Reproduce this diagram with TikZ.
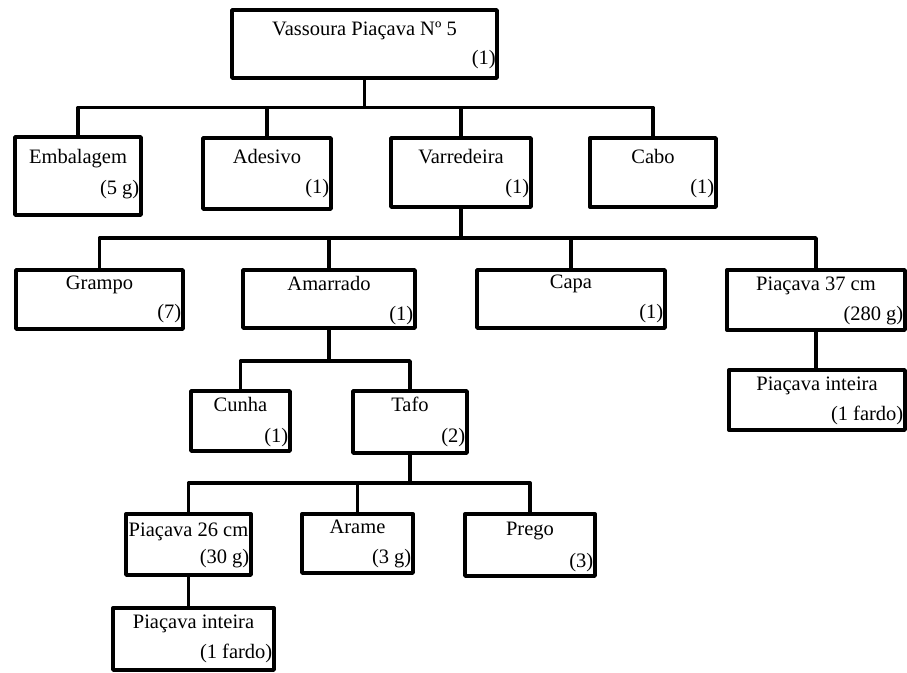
\documentclass[tikz,border=0pt]{standalone}
\usepackage{fontspec}
\setmainfont{Liberation Serif}
\usepackage{tikz}

\begin{document}
\begin{tikzpicture}[
  x=1pt, y=-1pt,
  font=\fontsize{20.5}{24}\selectfont,
  box/.style={draw, line width=3.4pt, line join=round, anchor=north west, inner sep=0pt, outer sep=0pt},
  ttl/.style={anchor=base, inner sep=0pt},
  qty/.style={anchor=base east, inner sep=0pt},
  link/.style={line width=3.4pt, line join=round}
]
  \useasboundingbox (0,0) rectangle (907,672);

  % level 0
  \node[box, minimum width=265pt, minimum height=68pt] (vass) at (232,10) {};
  \node[ttl] (vass-t) at ([yshift=-25pt]vass.north) {Vassoura Piaçava Nº 5};
  \node[qty] (vass-q) at ([shift={(-1pt,-54pt)}]vass.north east) {(1)};

  % level 1
  \node[box, minimum width=126pt, minimum height=78pt] (emb) at (15,137) {};
  \node[ttl] (emb-t) at ([yshift=-26pt]emb.north) {Embalagem};
  \node[qty] (emb-q) at ([shift={(-1.5pt,-57pt)}]emb.north east) {(5 g)};
  \node[box, minimum width=128pt, minimum height=71pt] (ades) at (203,138) {};
  \node[ttl] (ades-t) at ([yshift=-25pt]ades.north) {Adesivo};
  \node[qty] (ades-q) at ([shift={(-1.5pt,-55pt)}]ades.north east) {(1)};
  \node[box, minimum width=140pt, minimum height=69pt] (varr) at (391,138) {};
  \node[ttl] (varr-t) at ([yshift=-25pt]varr.north) {Varredeira};
  \node[qty] (varr-q) at ([shift={(-1.5pt,-55pt)}]varr.north east) {(1)};
  \node[box, minimum width=126pt, minimum height=69pt] (cabo) at (590,138) {};
  \node[ttl] (cabo-t) at ([yshift=-25pt]cabo.north) {Cabo};
  \node[qty] (cabo-q) at ([shift={(-1.5pt,-55pt)}]cabo.north east) {(1)};

  % level 2
  \node[box, minimum width=167pt, minimum height=59pt] (gram) at (16,270) {};
  \node[ttl] (gram-t) at ([yshift=-19pt]gram.north) {Grampo};
  \node[qty] (gram-q) at ([shift={(-1.5pt,-48pt)}]gram.north east) {(7)};
  \node[box, minimum width=172pt, minimum height=58pt] (amar) at (243,270) {};
  \node[ttl] (amar-t) at ([yshift=-20pt]amar.north) {Amarrado};
  \node[qty] (amar-q) at ([shift={(-1.5pt,-50pt)}]amar.north east) {(1)};
  \node[box, minimum width=188pt, minimum height=58pt] (capa) at (477,270) {};
  \node[ttl] (capa-t) at ([yshift=-18pt]capa.north) {Capa};
  \node[qty] (capa-q) at ([shift={(-1.5pt,-48pt)}]capa.north east) {(1)};
  \node[box, minimum width=178pt, minimum height=60pt] (pia37) at (727,270) {};
  \node[ttl] (pia37-t) at ([yshift=-20pt]pia37.north) {Piaçava 37 cm};
  \node[qty] (pia37-q) at ([shift={(-1.5pt,-50pt)}]pia37.north east) {(280 g)};
  \node[box, minimum width=176pt, minimum height=60pt] (int37) at (729,370) {};
  \node[ttl] (int37-t) at ([yshift=-20pt]int37.north) {Piaçava inteira};
  \node[qty] (int37-q) at ([shift={(-1.5pt,-50pt)}]int37.north east) {(1 fardo)};

  % level 3
  \node[box, minimum width=99pt, minimum height=60pt] (cunh) at (191,391) {};
  \node[ttl] (cunh-t) at ([yshift=-20pt]cunh.north) {Cunha};
  \node[qty] (cunh-q) at ([shift={(-1.5pt,-51pt)}]cunh.north east) {(1)};
  \node[box, minimum width=114pt, minimum height=62pt] (tafo) at (353,391) {};
  \node[ttl] (tafo-t) at ([yshift=-20pt]tafo.north) {Tafo};
  \node[qty] (tafo-q) at ([shift={(-1.5pt,-51pt)}]tafo.north east) {(2)};

  % level 4
  \node[box, minimum width=125pt, minimum height=61pt] (pia26) at (126,514) {};
  \node[ttl] (pia26-t) at ([yshift=-22pt]pia26.north) {Piaçava 26 cm};
  \node[qty] (pia26-q) at ([shift={(-1.5pt,-49pt)}]pia26.north east) {(30 g)};
  \node[box, minimum width=111pt, minimum height=59pt] (aram) at (302,514) {};
  \node[ttl] (aram-t) at ([yshift=-19pt]aram.north) {Arame};
  \node[qty] (aram-q) at ([shift={(-1.5pt,-49pt)}]aram.north east) {(3 g)};
  \node[box, minimum width=130pt, minimum height=62pt] (preg) at (465,514) {};
  \node[ttl] (preg-t) at ([yshift=-21pt]preg.north) {Prego};
  \node[qty] (preg-q) at ([shift={(-1.5pt,-53pt)}]preg.north east) {(3)};
  \node[box, minimum width=161pt, minimum height=62pt] (int26) at (113,608) {};
  \node[ttl] (int26-t) at ([yshift=-20pt]int26.north) {Piaçava inteira};
  \node[qty] (int26-q) at ([shift={(-1.5pt,-50pt)}]int26.north east) {(1 fardo)};

  % connectors
  \draw[link] (vass.south) -- ++(0,29.5) -| (emb.north);
  \draw[link] (vass.south) -- ++(0,29.5) -| (ades.north);
  \draw[link] (vass.south) -- ++(0,29.5) -| (varr.north);
  \draw[link] (vass.south) -- ++(0,29.5) -| (cabo.north);
  \draw[link] (varr.south) -- ++(0,31) -| (gram.north);
  \draw[link] (varr.south) -- ++(0,31) -| (amar.north);
  \draw[link] (varr.south) -- ++(0,31) -| (capa.north);
  \draw[link] (varr.south) -- ++(0,31) -| (pia37.north);
  \draw[link] (pia37.south) -- (pia37.south |- int37.north);
  \draw[link] (amar.south) -- ++(0,33) -| (cunh.north);
  \draw[link] (amar.south) -- ++(0,33) -| (tafo.north);
  \draw[link] (tafo.south) -- ++(0,30) -| (pia26.north);
  \draw[link] (tafo.south) -- ++(0,30) -| (aram.north);
  \draw[link] (tafo.south) -- ++(0,30) -| (preg.north);
  \draw[link] (pia26.south) -- (pia26.south |- int26.north);
\end{tikzpicture}
\end{document}
